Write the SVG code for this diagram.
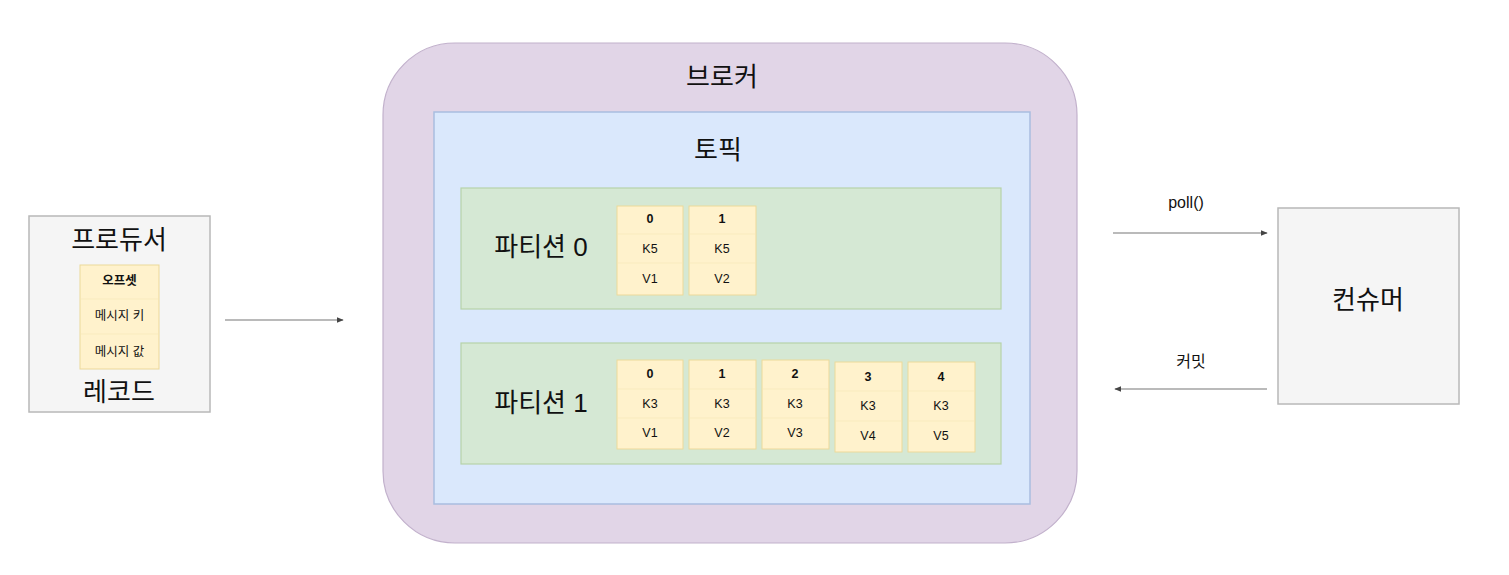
<svg xmlns="http://www.w3.org/2000/svg" width="1509" height="575" viewBox="0 0 1509 575">
<style>
  text { font-family: "Liberation Sans", "Noto Sans CJK KR", sans-serif; fill: #111; text-anchor: middle; dominant-baseline: central; }
  .big { font-size: 26px; }
  .mid { font-size: 16px; }
  .cell { font-size: 12.5px; }
  .hdr { font-size: 12.5px; font-weight: bold; }
  .gray { fill: #f5f5f5; stroke: #b8b8b8; stroke-width: 1.5; }
  .broker { fill: #e1d5e7; stroke: #c2b1cc; stroke-width: 1.2; }
  .topic { fill: #dae8fc; stroke: #a9bde0; stroke-width: 1.5; }
  .part { fill: #d5e8d4; stroke: #b7d2a9; stroke-width: 1.2; }
  .rec { fill: #fff2cc; stroke: #ecd99a; stroke-width: 1; }
  .sep { stroke: #f9ebbe; stroke-width: 1; }
  .conn { stroke: #777; stroke-width: 1.2; fill: none; marker-end: url(#arr); }
</style>
<defs>
  <marker id="arr" viewBox="0 0 10 10" refX="9" refY="5" markerWidth="6" markerHeight="6" orient="auto">
    <path d="M0,1 L10,5 L0,9 z" fill="#444"/>
  </marker>
</defs>
<rect width="1509" height="575" fill="#ffffff"/>

<g id="producer">
  <rect class="gray" x="29" y="216" width="181" height="196"/>
  <text class="big" x="119" y="240">프로듀서</text>
  <text class="big" x="119" y="392">레코드</text>
  <g id="record">
    <rect class="rec" x="80" y="265" width="79" height="104"/>
    <line class="sep" x1="81" y1="299" x2="158" y2="299"/>
    <line class="sep" x1="81" y1="334" x2="158" y2="334"/>
    <text class="hdr" x="119.5" y="281">오프셋</text>
    <text class="cell" x="119.5" y="316">메시지 키</text>
    <text class="cell" x="119.5" y="352">메시지 값</text>
  </g>
</g>

<g id="broker">
  <rect class="broker" x="383" y="43" width="694" height="500" rx="72" ry="72"/>
  <text class="big" x="722" y="77">브로커</text>
</g>

<g id="topic">
  <rect class="topic" x="434" y="112" width="596" height="392"/>
  <text class="big" x="718" y="150">토픽</text>
</g>

<g id="partition0">
  <rect class="part" x="461" y="188" width="540" height="121"/>
  <text class="big" x="541" y="247">파티션 0</text>
  <g id="p0c0">
    <rect class="rec" x="617" y="206" width="66" height="89"/>
    <line class="sep" x1="618" y1="234" x2="682" y2="234"/>
    <line class="sep" x1="618" y1="263" x2="682" y2="263"/>
    <text class="hdr" x="650" y="219">0</text>
    <text class="cell" x="650" y="249">K5</text>
    <text class="cell" x="650" y="279">V1</text>
  </g>
  <g id="p0c1">
    <rect class="rec" x="689" y="206" width="67" height="89"/>
    <line class="sep" x1="690" y1="234" x2="755" y2="234"/>
    <line class="sep" x1="690" y1="263" x2="755" y2="263"/>
    <text class="hdr" x="722" y="219">1</text>
    <text class="cell" x="722" y="249">K5</text>
    <text class="cell" x="722" y="279">V2</text>
  </g>
</g>

<g id="partition1">
  <rect class="part" x="461" y="343" width="540" height="121"/>
  <text class="big" x="541" y="403">파티션 1</text>
  <g id="p1c0">
    <rect class="rec" x="617" y="360" width="66" height="89"/>
    <line class="sep" x1="618" y1="389" x2="682" y2="389"/>
    <line class="sep" x1="618" y1="418" x2="682" y2="418"/>
    <text class="hdr" x="650" y="374">0</text>
    <text class="cell" x="650" y="404">K3</text>
    <text class="cell" x="650" y="433">V1</text>
  </g>
  <g id="p1c1">
    <rect class="rec" x="689" y="360" width="67" height="89"/>
    <line class="sep" x1="690" y1="389" x2="755" y2="389"/>
    <line class="sep" x1="690" y1="418" x2="755" y2="418"/>
    <text class="hdr" x="722" y="374">1</text>
    <text class="cell" x="722" y="404">K3</text>
    <text class="cell" x="722" y="433">V2</text>
  </g>
  <g id="p1c2">
    <rect class="rec" x="762" y="360" width="67" height="89"/>
    <line class="sep" x1="763" y1="389" x2="828" y2="389"/>
    <line class="sep" x1="763" y1="418" x2="828" y2="418"/>
    <text class="hdr" x="795" y="374">2</text>
    <text class="cell" x="795" y="404">K3</text>
    <text class="cell" x="795" y="433">V3</text>
  </g>
  <g id="p1c3">
    <rect class="rec" x="835" y="362" width="67" height="90"/>
    <line class="sep" x1="836" y1="391" x2="901" y2="391"/>
    <line class="sep" x1="836" y1="421" x2="901" y2="421"/>
    <text class="hdr" x="868" y="377">3</text>
    <text class="cell" x="868" y="406">K3</text>
    <text class="cell" x="868" y="436">V4</text>
  </g>
  <g id="p1c4">
    <rect class="rec" x="908" y="362" width="67" height="90"/>
    <line class="sep" x1="909" y1="391" x2="974" y2="391"/>
    <line class="sep" x1="909" y1="421" x2="974" y2="421"/>
    <text class="hdr" x="941" y="377">4</text>
    <text class="cell" x="941" y="406">K3</text>
    <text class="cell" x="941" y="436">V5</text>
  </g>
</g>

<g id="consumer">
  <rect class="gray" x="1278" y="208" width="181" height="196"/>
  <text class="big" x="1368" y="300">컨슈머</text>
</g>

<g id="connectors">
  <line class="conn" x1="225" y1="320" x2="343" y2="320"/>
  <line class="conn" x1="1113" y1="233" x2="1267" y2="233"/>
  <text class="mid" x="1186" y="202">poll()</text>
  <line class="conn" x1="1267" y1="389" x2="1115" y2="389"/>
  <text class="mid" x="1191" y="361">커밋</text>
</g>
</svg>
